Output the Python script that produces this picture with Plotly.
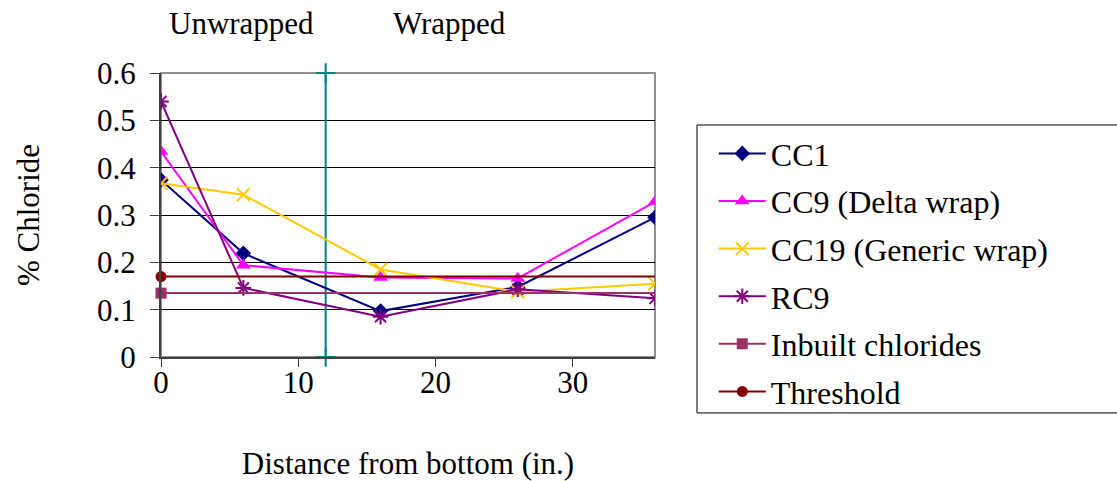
import plotly.graph_objects as go

# distance from bottom (in.)
distance = [0, 6, 16, 26, 36]

cc1 = [0.374, 0.219, 0.097, 0.148, 0.295]
cc9 = [0.434, 0.194, 0.168, 0.166, 0.328]
cc19 = [0.367, 0.343, 0.185, 0.138, 0.155]
rc9 = [0.540, 0.146, 0.085, 0.143, 0.124]

inbuilt_x = [0, 36]
inbuilt = [0.135, 0.135]
threshold_x = [0, 36]
threshold = [0.17, 0.17]

# wrap boundary marker line
wrap_x = [12, 12]
wrap_y = [0, 0.6]

FONT = "Liberation Serif, Times New Roman, serif"

fig = go.Figure()

fig.add_trace(go.Scatter(x=wrap_x, y=wrap_y, mode='lines+markers', showlegend=False, cliponaxis=False,
                         line=dict(color='#008080', width=2),
                         marker=dict(symbol='cross-thin', size=14, line=dict(color='#008080', width=2))))

fig.add_trace(go.Scatter(x=distance, y=cc1, mode='lines+markers', name='CC1', legendgroup='a',
                         line=dict(color='#000080', width=2),
                         marker=dict(symbol='diamond', size=12, color='#000080')))
fig.add_trace(go.Scatter(x=distance, y=cc9, mode='lines+markers', name='CC9 (Delta wrap)', legendgroup='b',
                         line=dict(color='#FF00FF', width=2),
                         marker=dict(symbol='triangle-up', size=13, color='#FF00FF')))
fig.add_trace(go.Scatter(x=distance, y=cc19, mode='lines+markers', name='CC19 (Generic wrap)', legendgroup='c',
                         line=dict(color='#FFC800', width=2),
                         marker=dict(symbol='x-thin', size=13, color='#FFC800', line=dict(color='#FFC800', width=2))))
fig.add_trace(go.Scatter(x=distance, y=rc9, mode='lines+markers', name='RC9', legendgroup='d',
                         line=dict(color='#800080', width=2),
                         marker=dict(symbol='asterisk', size=13, color='#800080', line=dict(color='#800080', width=2))))

# constant levels: line across, marker only at the first point
fig.add_trace(go.Scatter(x=inbuilt_x, y=inbuilt, mode='lines', showlegend=False, legendgroup='e',
                         line=dict(color='#993366', width=2)))
fig.add_trace(go.Scatter(x=inbuilt_x[:1], y=inbuilt[:1], mode='lines+markers', name='Inbuilt chlorides', legendgroup='e',
                         line=dict(color='#993366', width=2), cliponaxis=False,
                         marker=dict(symbol='square', size=11, color='#993366')))
fig.add_trace(go.Scatter(x=threshold_x, y=threshold, mode='lines', showlegend=False, legendgroup='f',
                         line=dict(color='#800000', width=2)))
fig.add_trace(go.Scatter(x=threshold_x[:1], y=threshold[:1], mode='lines+markers', name='Threshold', legendgroup='f',
                         line=dict(color='#800000', width=2), cliponaxis=False,
                         marker=dict(symbol='circle', size=11, color='#800000')))

fig.update_xaxes(range=[0, 36], tickvals=[0, 10, 20, 30], showgrid=False, zeroline=False,
                 showline=True, linecolor='#404040', linewidth=2,
                 ticks='outside', ticklen=8, tickcolor='#404040', ticklabelstandoff=-11,
                 tickfont=dict(size=31),
                 title=dict(text='Distance from bottom (in.)', standoff=55, font=dict(size=31)))
fig.update_yaxes(range=[0, 0.6], dtick=0.1, tickformat='.1~f', showgrid=True, gridcolor='#000000', gridwidth=1,
                 zeroline=False, showline=True, linecolor='#404040', linewidth=2,
                 ticks='outside', ticklen=9, tickcolor='#404040', ticklabelstandoff=8,
                 tickfont=dict(size=31),
                 title=dict(text='% Chloride', standoff=48, font=dict(size=31)))

fig.add_shape(type='rect', xref='paper', yref='paper', x0=0, x1=1, y0=0, y1=1,
              line=dict(color='#909090', width=2), layer='below')
# legend frame: open on the right, it runs off the page edge
fig.add_shape(type='path', xref='paper', yref='paper',
              path='M 1.99,0.817 L 1.085,0.817 L 1.085,-0.197 L 1.99,-0.197',
              line=dict(color='#000000', width=1))

fig.add_annotation(text='Unwrapped', x=5.83, y=1.243, xref='x', yref='paper', showarrow=False,
                   font=dict(size=31))
fig.add_annotation(text='Wrapped', x=21.0, y=1.243, xref='x', yref='paper', showarrow=False,
                   font=dict(size=31))

fig.update_layout(
    width=1117, height=481,
    margin=dict(l=161, r=462, t=73, b=124, autoexpand=False),
    plot_bgcolor='white', paper_bgcolor='white',
    font=dict(family=FONT, size=31, color='#000000'),
    legend=dict(x=1.119, y=0.813, xanchor='left', yanchor='top', tracegroupgap=3,
                itemwidth=47, maxheight=400, borderwidth=0,
                font=dict(size=32), bgcolor='rgba(0,0,0,0)'),
)

# drop the default page margin so the figure sits at the window's corner
fig.write_html("out.html", config={'displayModeBar': False},
               post_script="document.body.style.margin='0px';")
